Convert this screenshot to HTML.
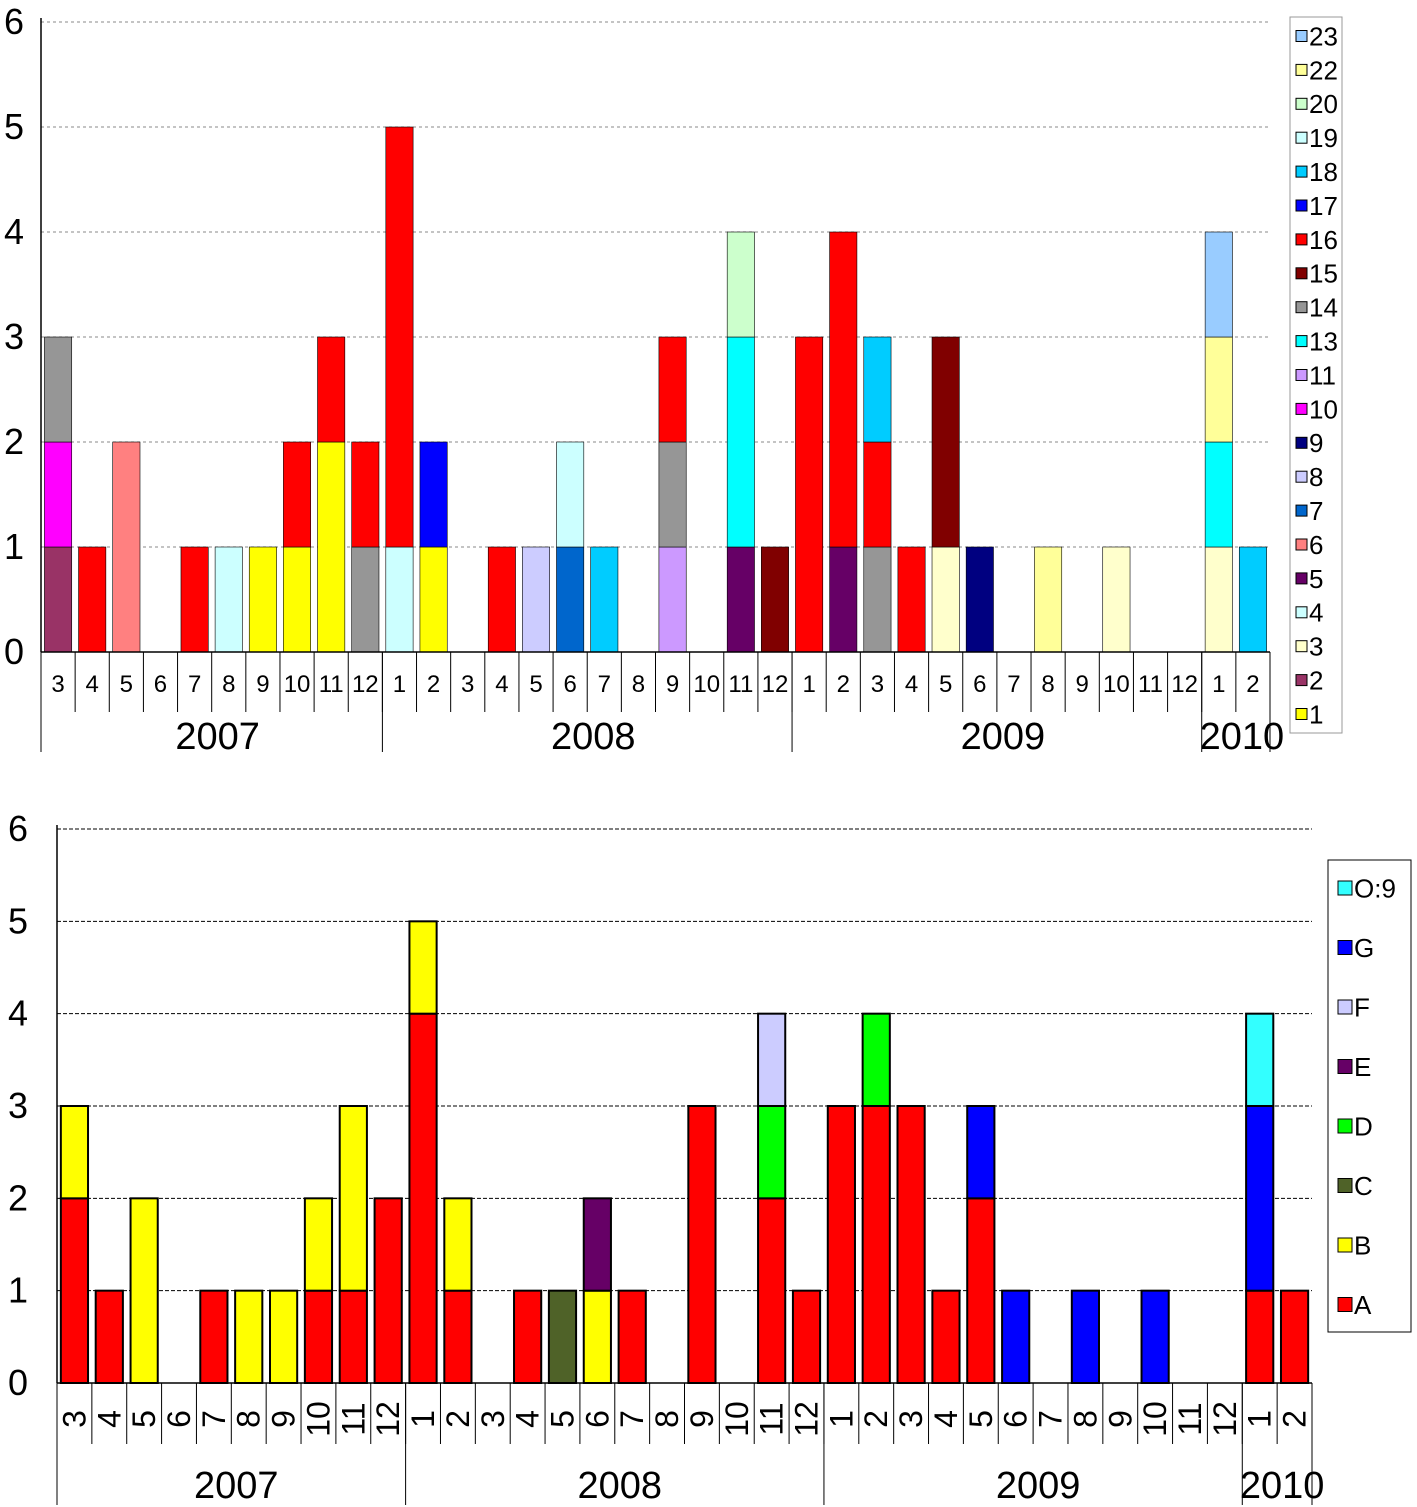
<!DOCTYPE html>
<html><head><meta charset="utf-8"><style>
html,body{margin:0;padding:0;background:#fff}
svg{display:block;font-family:"Liberation Sans",Arial,sans-serif}
</style></head><body>
<svg id="c" width="1417" height="1507" xmlns="http://www.w3.org/2000/svg"></svg>
<script>
const months=[3,4,5,6,7,8,9,10,11,12,1,2,3,4,5,6,7,8,9,10,11,12,1,2,3,4,5,6,7,8,9,10,11,12,1,2];
const years=["2007","2008","2009","2010"];
const yearCounts=[10,12,12,2];
const topKeys=["23","22","20","19","18","17","16","15","14","13","11","10","9","8","7","6","5","4","3","2","1"];
const topColors={"23":"#99ccff","22":"#ffff99","20":"#ccffcc","19":"#ccffff","18":"#00ccff","17":"#0000ff","16":"#ff0000","15":"#800000","14":"#969696","13":"#00ffff","11":"#cc99ff","10":"#ff00ff","9":"#000080","8":"#ccccff","7":"#0066cc","6":"#ff8080","5":"#660066","4":"#ccffff","3":"#ffffcc","2":"#993366","1":"#ffff00"};
const topStacks=[
[["2",1],["10",1],["14",1]],[["16",1]],[["6",2]],[],[["16",1]],[["4",1]],[["1",1]],[["1",1],["16",1]],[["1",2],["16",1]],[["14",1],["16",1]],
[["4",1],["16",4]],[["1",1],["17",1]],[],[["16",1]],[["8",1]],[["7",1],["19",1]],[["18",1]],[],[["11",1],["14",1],["16",1]],[],[["5",1],["13",2],["20",1]],[["15",1]],
[["16",3]],[["5",1],["16",3]],[["14",1],["16",1],["18",1]],[["16",1]],[["3",1],["15",2]],[["9",1]],[],[["22",1]],[],[["3",1]],[],[],
[["3",1],["13",1],["22",1],["23",1]],[["18",1]]];
const botKeys=["O:9","G","F","E","D","C","B","A"];
const botColors={"O:9":"#33ffff","G":"#0000ff","F":"#ccccff","E":"#660066","D":"#00ff00","C":"#4f6228","B":"#ffff00","A":"#ff0000"};
const botStacks=[
[["A",2],["B",1]],[["A",1]],[["B",2]],[],[["A",1]],[["B",1]],[["B",1]],[["A",1],["B",1]],[["A",1],["B",2]],[["A",2]],
[["A",4],["B",1]],[["A",1],["B",1]],[],[["A",1]],[["C",1]],[["B",1],["E",1]],[["A",1]],[],[["A",3]],[],[["A",2],["D",1],["F",1]],[["A",1]],
[["A",3]],[["A",3],["D",1]],[["A",3]],[["A",1]],[["A",2],["G",1]],[["G",1]],[],[["G",1]],[],[["G",1]],[],[],
[["A",1],["G",2],["O:9",1]],[["A",1]]];
const yTicks=[0,1,2,3,4,5,6];

const NS="http://www.w3.org/2000/svg";
const svg=document.getElementById('c');
function el(tag,attrs,parent,text){const e=document.createElementNS(NS,tag);for(const k in attrs)e.setAttribute(k,attrs[k]);if(text!==undefined)e.textContent=text;(parent||svg).appendChild(e);return e;}

function drawChart(cfg){
  const g=el('g',{});
  
  
  const n=months.length, bw=(cfg.x1-cfg.x0)/n;
  const xs=i=>cfg.x0+i*bw;
  const ys=v=>cfg.y0-v*(cfg.y0-cfg.y6)/6;
  yTicks.forEach(t=>{
    if(t>0){const l=el('line',{x1:cfg.x0,x2:cfg.gridEnd,y1:ys(t),y2:ys(t),stroke:cfg.gridColor,'stroke-width':1,'stroke-dasharray':cfg.dash},g);
      }
    const tx=el('text',{x:cfg.ylabX,y:ys(t)+12,'font-size':36,'text-anchor':'end'},g,String(t));
    
  });
  const barW=bw*cfg.barFrac;
  cfg.stacks.forEach((st,i)=>{
    let base=0;
    st.forEach(([k,v])=>{
      const r=el('rect',{x:xs(i)+(bw-barW)/2,y:ys(base+v),width:barW,height:ys(base)-ys(base+v),fill:cfg.colors[k],stroke:cfg.barStroke,'stroke-width':cfg.barSW},g);
      
      
      base+=v;
    });
  });
  el('line',{x1:cfg.x0,x2:cfg.x0,y1:cfg.y6-4,y2:cfg.y0,stroke:'#000','stroke-width':1.5},g);
  el('line',{x1:cfg.x0,x2:cfg.x1,y1:cfg.y0,y2:cfg.y0,stroke:'#000','stroke-width':1.5},g);
  months.forEach((m,i)=>{
    el('line',{x1:xs(i),x2:xs(i),y1:cfg.y0,y2:cfg.catBottom,stroke:'#000','stroke-width':1},g);
    let t;
    if(cfg.rotate){
      t=el('text',{x:0,y:0,'font-size':32,'text-anchor':'middle',transform:`translate(${xs(i)+bw/2+11},${cfg.y0+36}) rotate(-90)`},g,String(m));
    }else{
      t=el('text',{x:xs(i)+bw/2,y:cfg.y0+40,'font-size':24,'text-anchor':'middle'},g,String(m));
    }
    
  });
  el('line',{x1:cfg.x1,x2:cfg.x1,y1:cfg.y0,y2:cfg.catBottom,stroke:'#000','stroke-width':1},g);
  let c=0;
  years.forEach((y,j)=>{
    el('line',{x1:xs(c),x2:xs(c),y1:cfg.y0,y2:cfg.yearBottom,stroke:'#000','stroke-width':1},g);
    const cx=xs(c+yearCounts[j]/2)+cfg.yearShift;
    const t=el('text',{x:cx,y:cfg.yearY,'font-size':38,'text-anchor':'middle'},g,y);
    
    c+=yearCounts[j];
  });
  el('line',{x1:cfg.x1,x2:cfg.x1,y1:cfg.y0,y2:cfg.yearBottom,stroke:'#000','stroke-width':1},g);
  const L=cfg.legend;
  const lb=el('rect',{x:L.x,y:L.y,width:L.w,height:L.h,fill:'#fff',stroke:cfg.legendStroke,'stroke-width':1},g);
  
  cfg.keys.forEach((k,j)=>{
    const yy=L.firstY+j*L.step;
    const eg=el('g',{},g);
    
    
    el('rect',{x:L.x+L.sx,y:yy-L.s/2,width:L.s,height:L.s,fill:cfg.colors[k],stroke:'#000','stroke-width':1},eg);
    el('text',{x:L.x+L.sx+L.s+2,y:yy+L.fs*0.36,'font-size':L.fs},eg,k);
  });
}

drawChart({name:'top-chart',x0:41,x1:1270,y0:652,y6:22,gridEnd:1270,gridColor:'#888',dash:'3,3',ylabX:24,
  stacks:topStacks,colors:topColors,keys:topKeys,barFrac:0.8,barStroke:'#000',barSW:0.6,
  catBottom:712,yearBottom:752,yearY:749,rotate:false,legendStroke:'#999',yearShift:6,
  legend:{x:1290,y:17,w:52,h:716,firstY:36,step:33.9,s:11,sx:6,fs:26}});
drawChart({name:'bottom-chart',x0:57,x1:1312,y0:1383,y6:829,gridEnd:1312,gridColor:'#000',dash:'4,2',ylabX:28,
  stacks:botStacks,colors:botColors,keys:botKeys,barFrac:0.78,barStroke:'#000',barSW:2,
  catBottom:1444,yearBottom:1505,yearY:1498,rotate:true,legendStroke:'#000',yearShift:5,
  legend:{x:1328,y:860,w:83,h:472,firstY:888,step:59.5,s:14,sx:10,fs:26}});
</script>
</body></html>
